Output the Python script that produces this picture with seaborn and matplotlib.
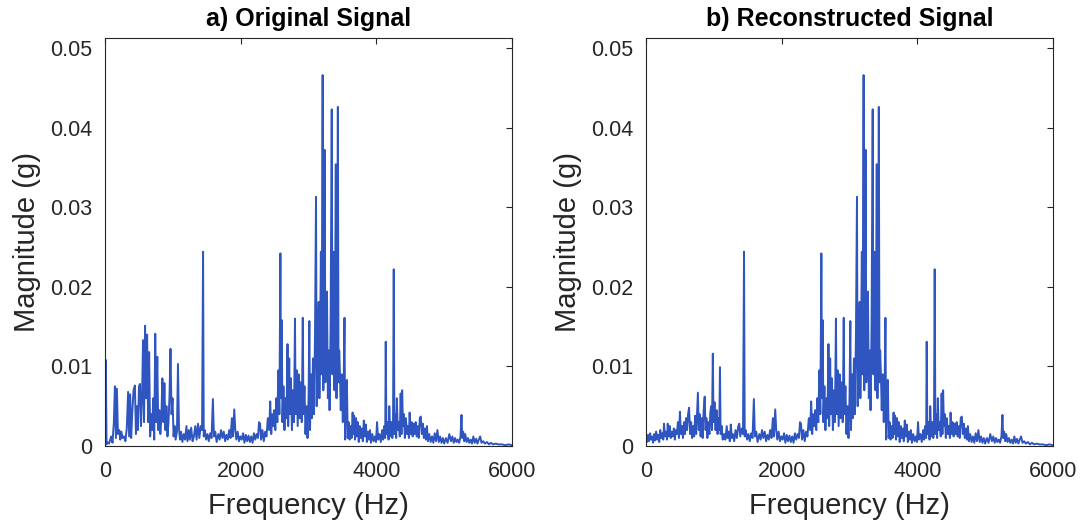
import numpy as np
import pandas as pd
import matplotlib
matplotlib.use("Agg")
import matplotlib.pyplot as plt
import seaborn as sns

# ---- data ----
# Original signal, low band 0-1445 Hz
orig_low_f = [0, 12, 22, 30, 60, 90, 110, 130, 145, 160, 175, 190, 210, 225, 240, 260, 280, 300, 320, 340, 355,
              370, 385, 400, 420, 440, 455, 470, 485, 500, 515, 530, 545, 560, 575, 590, 605, 620, 635, 650, 665,
              680, 695, 710, 725, 740, 755, 770, 785, 800, 815, 830, 845, 860, 875, 890, 905, 920, 935, 950, 965,
              980, 995, 1010, 1025, 1040, 1060, 1075, 1090, 1105, 1120, 1140, 1160, 1180, 1200, 1215, 1235, 1250,
              1270, 1290, 1310, 1330, 1350, 1370, 1390, 1410, 1430, 1445]
orig_low_m = [0.0015, 0.0108, 0.0002, 0.0005, 0.0003, 0.0012, 0.0004, 0.0030, 0.0075, 0.0010, 0.0072, 0.0015, 0.0020,
              0.0008, 0.0018, 0.0010, 0.0012, 0.0006, 0.0022, 0.0068, 0.0012, 0.0065, 0.0010, 0.0040, 0.0070,
              0.0076, 0.0015, 0.0050, 0.0020, 0.0075, 0.0078, 0.0025, 0.0060, 0.0133, 0.0030, 0.0151, 0.0060,
              0.0140, 0.0030, 0.0118, 0.0012, 0.0040, 0.0020, 0.0060, 0.0008, 0.0141, 0.0030, 0.0112, 0.0020,
              0.0045, 0.0015, 0.0035, 0.0085, 0.0030, 0.0079, 0.0020, 0.0050, 0.0012, 0.0030, 0.0062, 0.0122,
              0.0040, 0.0060, 0.0012, 0.0025, 0.0008, 0.0018, 0.0103, 0.0022, 0.0008, 0.0018, 0.0005, 0.0015,
              0.0008, 0.0025, 0.0006, 0.0020, 0.0008, 0.0023, 0.0006, 0.0012, 0.0025, 0.0008, 0.0028, 0.0010,
              0.0025, 0.0020, 0.0244]

# Reconstructed signal, low band 0-1445 Hz
rec_low_f = [0, 15, 30, 45, 60, 75, 90, 105, 120, 135, 150, 165, 180, 195, 210, 225, 240, 255, 265, 280, 295,
             310, 320, 335, 350, 365, 380, 395, 410, 425, 440, 455, 470, 485, 500, 515, 530, 545, 560, 575, 590,
             605, 620, 635, 650, 665, 680, 695, 710, 725, 740, 755, 765, 778, 790, 805, 820, 835, 850, 865, 878,
             890, 905, 920, 935, 948, 960, 972, 985, 995, 1010, 1025, 1040, 1055, 1070, 1080, 1090, 1100, 1115,
             1130, 1150, 1170, 1190, 1205, 1220, 1235, 1250, 1265, 1280, 1300, 1320, 1340, 1360, 1375, 1390,
             1410, 1430, 1445]
rec_low_m = [0.0012, 0.0005, 0.0014, 0.0006, 0.0016, 0.0008, 0.0012, 0.0004, 0.0015, 0.0007, 0.0018, 0.0008,
             0.0014, 0.0005, 0.0020, 0.0010, 0.0016, 0.0008, 0.0028, 0.0012, 0.0018, 0.0008, 0.0028, 0.0012,
             0.0025, 0.0010, 0.0018, 0.0012, 0.0022, 0.0008, 0.0020, 0.0015, 0.0030, 0.0010, 0.0043, 0.0015,
             0.0025, 0.0010, 0.0030, 0.0015, 0.0035, 0.0020, 0.0040, 0.0048, 0.0015, 0.0030, 0.0010, 0.0025,
             0.0012, 0.0038, 0.0015, 0.0045, 0.0067, 0.0020, 0.0040, 0.0012, 0.0035, 0.0010, 0.0045, 0.0062,
             0.0020, 0.0035, 0.0010, 0.0030, 0.0015, 0.0042, 0.0050, 0.0020, 0.0116, 0.0030, 0.0055, 0.0020,
             0.0045, 0.0015, 0.0035, 0.0020, 0.0099, 0.0015, 0.0025, 0.0008, 0.0015, 0.0008, 0.0025, 0.0010,
             0.0018, 0.0006, 0.0027, 0.0010, 0.0015, 0.0006, 0.0020, 0.0010, 0.0025, 0.0028, 0.0012, 0.0022,
             0.0015, 0.0244]

# Shared band 1455-6000 Hz (both panels look the same here)
high_f = [1455, 1470, 1490, 1510, 1530, 1550, 1570, 1590, 1605, 1625, 1645, 1670, 1690, 1710, 1730, 1750, 1770,
          1790, 1810, 1830, 1850, 1870, 1885, 1905, 1920, 1935, 1955, 1975, 1995, 2015, 2035, 2055, 2075, 2095,
          2115, 2135, 2155, 2175, 2195, 2215, 2235, 2255, 2270, 2285, 2300, 2320, 2340, 2360, 2380, 2400, 2420,
          2435, 2450, 2465, 2480, 2495, 2510, 2525, 2540, 2555, 2570, 2585, 2595, 2605, 2615, 2630, 2645, 2660,
          2675, 2690, 2700, 2715, 2725, 2740, 2755, 2770, 2785, 2800, 2810, 2825, 2840, 2855, 2870, 2885, 2900,
          2915, 2925, 2940, 2955, 2970, 2985, 3000, 3012, 3022, 3035, 3050, 3065, 3080, 3095, 3110, 3120, 3135,
          3150, 3160, 3172, 3182, 3192, 3208, 3218, 3228, 3238, 3248, 3260, 3272, 3285, 3298, 3310, 3325, 3342,
          3352, 3362, 3372, 3382, 3392, 3402, 3412, 3422, 3432, 3442, 3452, 3462, 3475, 3490, 3505, 3518, 3530,
          3540, 3552, 3565, 3578, 3590, 3605, 3620, 3635, 3650, 3660, 3672, 3685, 3700, 3712, 3725, 3740, 3755,
          3770, 3785, 3800, 3815, 3830, 3845, 3860, 3875, 3890, 3905, 3920, 3940, 3960, 3980, 3995, 4010, 4025,
          4045, 4065, 4085, 4100, 4115, 4130, 4138, 4148, 4165, 4180, 4190, 4205, 4220, 4235, 4245, 4256, 4266,
          4280, 4292, 4302, 4315, 4330, 4345, 4358, 4370, 4380, 4392, 4405, 4420, 4435, 4450, 4465, 4480, 4490,
          4505, 4520, 4535, 4550, 4565, 4580, 4595, 4610, 4625, 4640, 4655, 4670, 4685, 4700, 4715, 4730, 4745,
          4760, 4780, 4800, 4820, 4840, 4860, 4880, 4900, 4920, 4940, 4960, 4980, 5000, 5025, 5050, 5075, 5100,
          5120, 5140, 5160, 5180, 5200, 5220, 5240, 5255, 5265, 5280, 5295, 5310, 5330, 5350, 5370, 5390, 5410,
          5430, 5450, 5470, 5490, 5510, 5530, 5550, 5575, 5600, 5630, 5660, 5690, 5720, 5760, 5800, 5850, 5900,
          5950, 6000]
high_m = [0.0012, 0.0020, 0.0008, 0.0015, 0.0006, 0.0016, 0.0010, 0.0059, 0.0012, 0.0018, 0.0005, 0.0015,
          0.0008, 0.0020, 0.0010, 0.0018, 0.0006, 0.0014, 0.0008, 0.0020, 0.0010, 0.0035, 0.0012, 0.0046, 0.0020,
          0.0008, 0.0018, 0.0006, 0.0012, 0.0008, 0.0016, 0.0004, 0.0014, 0.0006, 0.0013, 0.0005, 0.0012, 0.0004,
          0.0016, 0.0008, 0.0015, 0.0010, 0.0030, 0.0028, 0.0008, 0.0020, 0.0006, 0.0018, 0.0012, 0.0035, 0.0020,
          0.0056, 0.0015, 0.0040, 0.0025, 0.0045, 0.0020, 0.0060, 0.0030, 0.0095, 0.0040, 0.0242, 0.0060, 0.0158,
          0.0030, 0.0075, 0.0020, 0.0060, 0.0035, 0.0128, 0.0025, 0.0110, 0.0040, 0.0085, 0.0020, 0.0070, 0.0030,
          0.0160, 0.0040, 0.0095, 0.0025, 0.0090, 0.0035, 0.0080, 0.0030, 0.0161, 0.0040, 0.0075, 0.0015, 0.0050,
          0.0010, 0.0060, 0.0157, 0.0020, 0.0090, 0.0035, 0.0110, 0.0040, 0.0140, 0.0313, 0.0050, 0.0130, 0.0181,
          0.0060, 0.0150, 0.0244, 0.0090, 0.0466, 0.0070, 0.0200, 0.0372, 0.0080, 0.0130, 0.0194, 0.0060, 0.0120,
          0.0045, 0.0150, 0.0423, 0.0090, 0.0175, 0.0244, 0.0070, 0.0200, 0.0354, 0.0060, 0.0180, 0.0426, 0.0080,
          0.0120, 0.0093, 0.0045, 0.0090, 0.0030, 0.0080, 0.0161, 0.0008, 0.0060, 0.0083, 0.0010, 0.0030, 0.0008,
          0.0025, 0.0010, 0.0042, 0.0015, 0.0038, 0.0008, 0.0035, 0.0012, 0.0030, 0.0005, 0.0025, 0.0010, 0.0022,
          0.0006, 0.0032, 0.0012, 0.0027, 0.0005, 0.0018, 0.0008, 0.0020, 0.0004, 0.0015, 0.0006, 0.0012, 0.0005,
          0.0030, 0.0008, 0.0015, 0.0005, 0.0020, 0.0008, 0.0025, 0.0010, 0.0131, 0.0015, 0.0030, 0.0008, 0.0050,
          0.0012, 0.0030, 0.0010, 0.0020, 0.0222, 0.0015, 0.0040, 0.0010, 0.0060, 0.0020, 0.0030, 0.0012, 0.0066,
          0.0015, 0.0070, 0.0025, 0.0040, 0.0010, 0.0035, 0.0015, 0.0025, 0.0010, 0.0042, 0.0015, 0.0030, 0.0012,
          0.0028, 0.0015, 0.0030, 0.0012, 0.0025, 0.0010, 0.0035, 0.0037, 0.0015, 0.0028, 0.0010, 0.0022, 0.0008,
          0.0025, 0.0006, 0.0015, 0.0005, 0.0012, 0.0004, 0.0016, 0.0006, 0.0020, 0.0005, 0.0012, 0.0004, 0.0010,
          0.0003, 0.0010, 0.0004, 0.0015, 0.0006, 0.0012, 0.0004, 0.0010, 0.0005, 0.0008, 0.0004, 0.0012, 0.0039,
          0.0010, 0.0018, 0.0006, 0.0015, 0.0005, 0.0010, 0.0004, 0.0008, 0.0003, 0.0012, 0.0004, 0.0009, 0.0003,
          0.0008, 0.0012, 0.0004, 0.0006, 0.0003, 0.0005, 0.0002, 0.0004, 0.0002, 0.0003, 0.0002, 0.0002, 0.0001,
          0.0002, 0.0001]

titles = ["a) Original Signal", "b) Reconstructed Signal"]
x_ticks = [0, 2000, 4000, 6000]
y_ticks = [0, 0.01, 0.02, 0.03, 0.04, 0.05]
y_tick_labels = ["0", "0.01", "0.02", "0.03", "0.04", "0.05"]

# ---- figure ----
sns.set_style("white")
plt.rcParams["font.family"] = ["Liberation Sans", "DejaVu Sans"]
plt.rcParams["xtick.direction"] = "in"
plt.rcParams["ytick.direction"] = "in"

line_color = "#2f55c0"
axis_color = "#262626"

fig = plt.figure(figsize=(10.83, 5.25), dpi=100)
ax_pos = [[0.097, 0.1505, 0.3758, 0.7771], [0.5965, 0.1505, 0.3758, 0.7771]]

panels = [
    (orig_low_f + high_f, orig_low_m + high_m),
    (rec_low_f + high_f, rec_low_m + high_m),
]

for pos, (f, m), title in zip(ax_pos, panels, titles):
    ax = fig.add_axes(pos)
    df = pd.DataFrame({"Frequency": f, "Magnitude": m})
    sns.lineplot(data=df, x="Frequency", y="Magnitude", ax=ax, color=line_color,
                 linewidth=1.4, sort=False, estimator=None)
    ax.set_xlim(0, 6000)
    ax.set_ylim(0, 0.05126)
    ax.set_xticks(x_ticks)
    ax.set_xticklabels([str(t) for t in x_ticks])
    ax.set_yticks(y_ticks)
    ax.set_yticklabels(y_tick_labels)
    ax.tick_params(axis="both", which="both", labelsize=15.5, colors=axis_color,
                   top=True, right=True, length=4, width=0.8)
    ax.tick_params(axis="x", pad=11)
    ax.tick_params(axis="y", pad=9)
    for s in ax.spines.values():
        s.set_visible(True)
        s.set_color(axis_color)
        s.set_linewidth(0.8)
    ax.set_xlabel("Frequency (Hz)", fontsize=21, color=axis_color, labelpad=7)
    ax.set_ylabel("Magnitude (g)", fontsize=21, color=axis_color, labelpad=7)
    ax.set_title(title, fontsize=18, fontweight="bold", color="black", pad=9)
    ax.grid(False)

fig.savefig("out.png", dpi=100)
